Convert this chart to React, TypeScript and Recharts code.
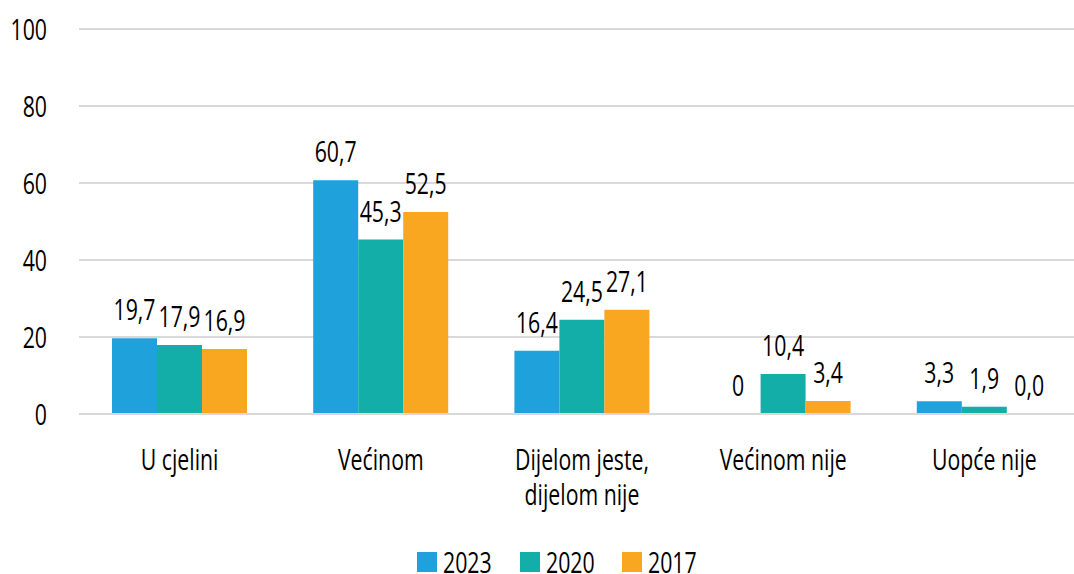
import React from "react";
import { BarChart, Bar, XAxis, YAxis, CartesianGrid, LabelList, Legend } from "recharts";

const categories = ["U cjelini", "Većinom", "Dijelom jeste,\ndijelom nije", "Većinom nije", "Uopće nije"];
const values2023 = [19.7, 60.7, 16.4, 0, 3.3];
const values2020 = [17.9, 45.3, 24.5, 10.4, 1.9];
const values2017 = [16.9, 52.5, 27.1, 3.4, 0.0];
const labels2023 = ["19,7", "60,7", "16,4", "0", "3,3"];
const labels2020 = ["17,9", "45,3", "24,5", "10,4", "1,9"];
const labels2017 = ["16,9", "52,5", "27,1", "3,4", "0,0"];
const yTicks = [0, 20, 40, 60, 80, 100];

const seriesNames = ["2023", "2020", "2017"];
const colors = ["#1FA2DC", "#14AEA9", "#F9A620"];

const data = categories.map((c, i) => ({
  name: c,
  v2023: values2023[i],
  v2020: values2020[i],
  v2017: values2017[i],
  l2023: labels2023[i],
  l2020: labels2020[i],
  l2017: labels2017[i],
}));

const FONT = "'Open Sans', 'Noto Sans', sans-serif";
const FS = 30;
const SX = 0.71;

const CText = ({ x, y, anchor, children }: any) => (
  <text
    x={0}
    y={0}
    transform={`translate(${x},${y}) scale(${SX},1)`}
    textAnchor={anchor}
    fill="#000"
    fontSize={FS}
    fontFamily={FONT}
  >
    {children}
  </text>
);

const XTick = (props: any) => {
  const { x, y, payload } = props;
  const lines = String(payload.value).split("\n");
  return (
    <g>
      {lines.map((ln: string, i: number) => (
        <CText key={i} x={x} y={y + 48 + i * 35} anchor="middle">
          {ln}
        </CText>
      ))}
    </g>
  );
};

const YTick = (props: any) => {
  const { x, y, payload } = props;
  return (
    <CText x={x} y={y + 11} anchor="end">
      {payload.value}
    </CText>
  );
};

const BarLabel = (props: any) => {
  const { x, y, width, value } = props;
  return (
    <CText x={x + width / 2} y={y - 18} anchor="middle">
      {value}
    </CText>
  );
};

const LegendContent = () => (
  <div style={{ display: "flex", height: 30, fontFamily: FONT, fontSize: FS, color: "#000", lineHeight: "30px" }}>
    {seriesNames.map((n, i) => (
      <div key={n} style={{ position: "relative", width: 102.5, height: 30 }}>
        <div style={{ position: "absolute", left: 0, top: 8, width: 20, height: 20, background: colors[i] }} />
        <span
          style={{
            position: "absolute",
            left: 26,
            top: 3,
            transform: `scaleX(${SX})`,
            transformOrigin: "left center",
            whiteSpace: "nowrap",
          }}
        >
          {n}
        </span>
      </div>
    ))}
  </div>
);

export default function App() {
  return (
    <div style={{ position: "absolute", left: 0, top: 0, width: 1074, height: 574, background: "#fff", overflow: "hidden" }}>
      <BarChart
        width={1074}
        height={574}
        data={data}
        margin={{ top: 29, right: -11, left: 0, bottom: 30 }}
        barGap={0}
        barCategoryGap={33}
      >
        <CartesianGrid vertical={false} stroke="#D9D9D9" strokeWidth={2} />
        <XAxis
          dataKey="name"
          axisLine={{ stroke: "#D9D9D9", strokeWidth: 2 }}
          tickLine={false}
          tick={<XTick />}
          interval={0}
          height={100}
        />
        <YAxis
          domain={[0, 100]}
          ticks={yTicks}
          axisLine={false}
          tickLine={false}
          width={79}
          tickSize={6}
          tickMargin={26}
          tick={<YTick />}
        />
        <Legend
          content={<LegendContent />}
          wrapperStyle={{ left: 417, bottom: 0, width: "auto", height: 30 }}
        />
        <Bar dataKey="v2023" fill={colors[0]} isAnimationActive={false} minPointSize={0.01}>
          <LabelList dataKey="l2023" content={<BarLabel />} />
        </Bar>
        <Bar dataKey="v2020" fill={colors[1]} isAnimationActive={false} minPointSize={0.01}>
          <LabelList dataKey="l2020" content={<BarLabel />} />
        </Bar>
        <Bar dataKey="v2017" fill={colors[2]} isAnimationActive={false} minPointSize={0.01}>
          <LabelList dataKey="l2017" content={<BarLabel />} />
        </Bar>
      </BarChart>
    </div>
  );
}
